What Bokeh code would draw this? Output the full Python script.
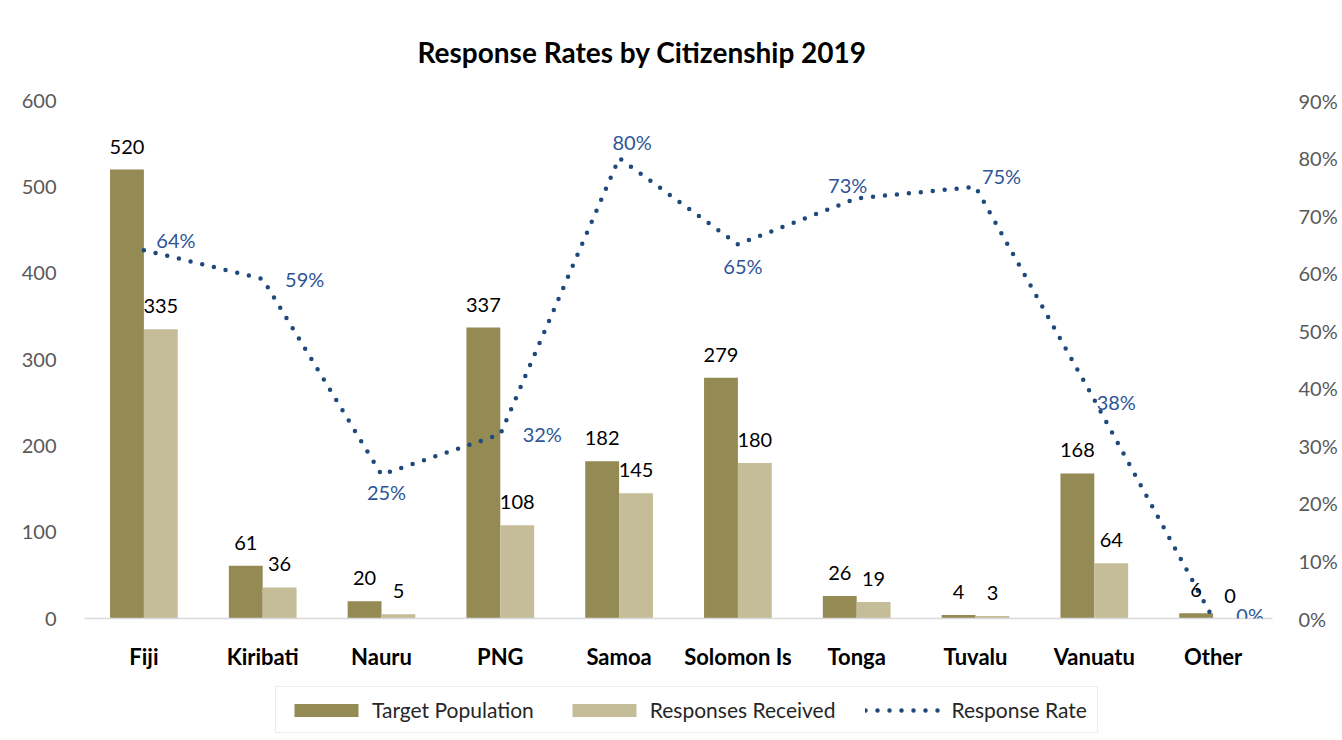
from bokeh.plotting import figure
from bokeh.layouts import column
from bokeh.models import (ColumnDataSource, FactorRange, Range1d, LinearAxis, Legend, LegendItem,
                          NumeralTickFormatter, FixedTicker, LabelSet)
from bokeh.transform import dodge
from bokeh.core.properties import value
from bokeh.embed import file_html
from bokeh.resources import INLINE

# ---- data ----
categories = ["Fiji", "Kiribati", "Nauru", "PNG", "Samoa", "Solomon Is", "Tonga", "Tuvalu", "Vanuatu", "Other"]
target_population = [520, 61, 20, 337, 182, 279, 26, 4, 168, 6]
responses_received = [335, 36, 5, 108, 145, 180, 19, 3, 64, 0]
response_rate = [0.64, 0.59, 0.25, 0.32, 0.80, 0.65, 0.73, 0.75, 0.38, 0.0]
rate_labels = ["64%", "59%", "25%", "32%", "80%", "65%", "73%", "75%", "38%", "0%"]
left_ticks = [0, 100, 200, 300, 400, 500, 600]
right_ticks = [0.0, 0.1, 0.2, 0.3, 0.4, 0.5, 0.6, 0.7, 0.8, 0.9]

# ---- label placement (style, screen pixels) ----
rate_dx = [32, 42, 5, 42, 13, 5, -9, 26, 22, 37]
rate_dy = [10, 0, -17, 0, 16, -22, 13, 11, -2, 4]

FONT = "Lato"
C_TARGET = "#948A54"
C_RESP = "#C4BD97"
C_LINE = "#1F497D"
C_RATE_TXT = "#2F5597"
W = 1340

src = ColumnDataSource(dict(
    cat=categories,
    target=target_population,
    resp=responses_received,
    target_txt=[str(v) for v in target_population],
    resp_txt=[str(v) for v in responses_received],
    rate=response_rate,
    rate_txt=rate_labels,
    dx=rate_dx,
    dy=rate_dy,
))

p = figure(width=W, height=672, x_range=FactorRange(factors=categories, range_padding=0),
           y_range=Range1d(0, 600), output_backend="svg", toolbar_location=None,
           min_border_left=84, min_border_right=62, min_border_top=100, min_border_bottom=51)
p.extra_y_ranges = {"rate": Range1d(0, 0.9)}

p.title.text = "Response Rates by Citizenship 2019"
p.title.align = "left"
p.title.offset = 333
p.title.text_font = FONT
p.title.text_font_size = "28px"
p.title.text_font_style = "bold"
p.title.text_color = "#000000"
p.title.standoff = 64

p.xgrid.visible = False
p.ygrid.visible = False
p.outline_line_color = None

bw = 0.285
bar_kw = dict(width=bw, source=src, line_color=None)
r1 = p.vbar(x=dodge("cat", -bw / 2, range=p.x_range), top="target", fill_color=C_TARGET, **bar_kw)
r2 = p.vbar(x=dodge("cat", bw / 2, range=p.x_range), top="resp", fill_color=C_RESP, **bar_kw)
line_kw = dict(line_color=C_LINE, line_width=4.5, line_dash="0 12", line_cap="round")
r3 = p.line(x="cat", y="rate", source=src, y_range_name="rate", **line_kw)

lab1 = LabelSet(x=dodge("cat", -bw / 2, range=p.x_range), y="target", text="target_txt", source=src,
                text_align="center", text_baseline="middle", y_offset=23,
                text_font=value(FONT), text_font_size="20px", text_color="#000000")
lab2 = LabelSet(x=dodge("cat", bw / 2, range=p.x_range), y="resp", text="resp_txt", source=src,
                text_align="center", text_baseline="middle", y_offset=23,
                text_font=value(FONT), text_font_size="20px", text_color="#000000")
lab3 = LabelSet(x="cat", y="rate", text="rate_txt", source=src, y_range_name="rate",
                x_offset="dx", y_offset="dy", text_align="center", text_baseline="middle",
                text_font=value(FONT), text_font_size="20px", text_color=C_RATE_TXT)
for l in (lab1, lab2, lab3):
    p.add_layout(l)

# axes
xa = p.xaxis[0]
xa.axis_line_color = "#d9d9d9"
xa.axis_line_width = 1.5
xa.major_tick_line_color = None
xa.minor_tick_line_color = None
xa.major_label_text_font = FONT
xa.major_label_text_font_size = "22px"
xa.major_label_text_font_style = "bold"
xa.major_label_text_color = "#000000"
xa.major_label_standoff = 18

ya = p.yaxis[0]
ya.ticker = FixedTicker(ticks=left_ticks)
ya.axis_line_color = None
ya.major_tick_line_color = None
ya.minor_tick_line_color = None
ya.major_label_text_font = FONT
ya.major_label_text_font_size = "20px"
ya.major_label_text_color = "#595959"
ya.major_label_standoff = 22

ra = LinearAxis(y_range_name="rate", ticker=FixedTicker(ticks=right_ticks),
                formatter=NumeralTickFormatter(format="0%"))
ra.axis_line_color = None
ra.major_tick_line_color = None
ra.minor_tick_line_color = None
ra.major_label_text_font = FONT
ra.major_label_text_font_size = "20px"
ra.major_label_text_color = "#595959"
ra.major_label_standoff = 20
p.add_layout(ra, "right")

# ---- legend strip (same series, renderers hidden; only the legend is drawn) ----
q = figure(width=W, height=66, x_range=FactorRange(factors=categories, range_padding=0),
           y_range=Range1d(0, 600), output_backend="svg", toolbar_location=None,
           x_axis_location=None, y_axis_location=None,
           min_border_left=0, min_border_right=0, min_border_top=0, min_border_bottom=0)
q.extra_y_ranges = {"rate": Range1d(0, 0.9)}
q.xgrid.visible = False
q.ygrid.visible = False
q.outline_line_color = None
g1 = q.vbar(x=dodge("cat", -bw / 2, range=q.x_range), top="target", fill_color=C_TARGET, visible=False, **bar_kw)
g2 = q.vbar(x=dodge("cat", bw / 2, range=q.x_range), top="resp", fill_color=C_RESP, visible=False, **bar_kw)
g3 = q.line(x="cat", y="rate", source=src, y_range_name="rate", visible=False, **line_kw)

legend = Legend(items=[
    LegendItem(label="Target Population", renderers=[g1]),
    LegendItem(label="Responses Received", renderers=[g2]),
    LegendItem(label="Response Rate", renderers=[g3]),
], orientation="horizontal", location=(191, 5))
legend.label_text_font = FONT
legend.label_text_font_size = "21px"
legend.label_text_color = "#262626"
legend.border_line_color = "#d9d9d9"
legend.border_line_width = 1.5
legend.glyph_width = 80
legend.glyph_height = 16
legend.spacing = 30
legend.label_standoff = 6
legend.padding = 10
legend.margin = 0
legend.click_policy = "none"
q.add_layout(legend, "center")

layout = column(p, q, spacing=0)
open("out.html", "w").write(file_html(layout, INLINE))
